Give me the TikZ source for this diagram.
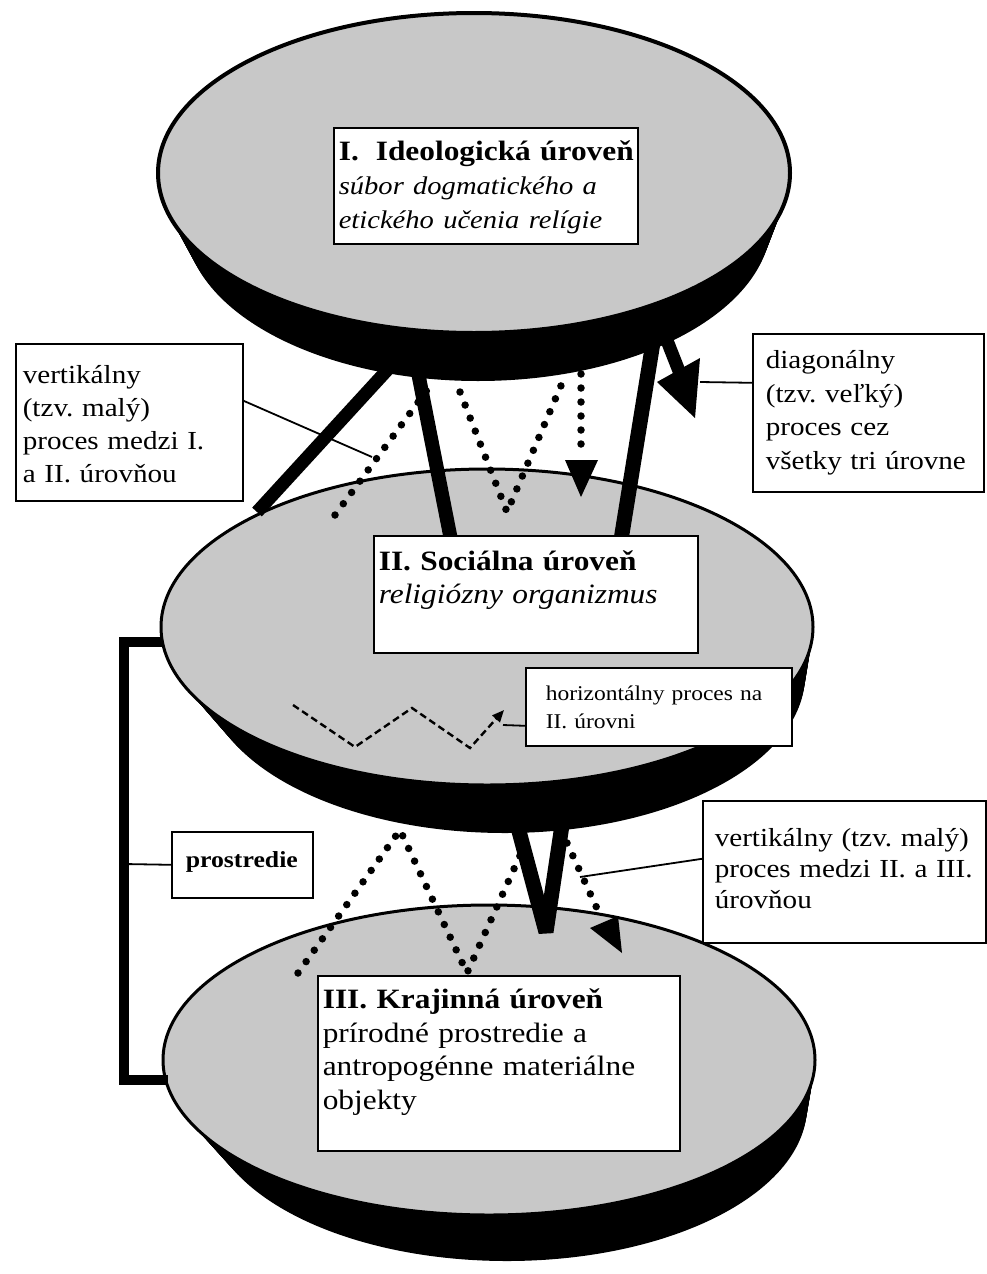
\documentclass[tikz,border=0pt]{standalone}
\usepackage{fontspec}
\setmainfont{Liberation Serif}[FakeStretch=1.12]
\usetikzlibrary{arrows.meta}
\definecolor{facegray}{RGB}{200,200,200}
\frenchspacing
\begin{document}
\begin{tikzpicture}[x=1pt,y=-1pt,
  tbox/.style={draw=black, line width=1.6pt, fill=white, anchor=north west, inner ysep=0pt, align=left},
  diskface/.style={fill=facegray, draw=black, line width=3pt},
  bigproc/.style={line width=14pt, line cap=butt, line join=bevel},
  dotproc/.style={line width=7.5pt, line cap=round, dash pattern=on 0pt off 14pt},
  hproc/.style={line width=2.4pt, dash pattern=on 7pt off 4pt},
  leader/.style={line width=1.8pt},
  bracketline/.style={line width=10pt, line join=miter}]
\useasboundingbox (0,0) rectangle (987,1274);
% ---- the three disks (black extruded side, then grey face)
\foreach \ecx/\ecy/\erx/\ery/\edx/\edy/\edr/\elw in {474/173/316/160/4/48/23/4, 487/627/326/158/18/48/26/3, 489/1060/326/155/18/46/26/3}{
  \foreach \i in {0,...,20}{
    \pgfmathsetmacro\epx{\ecx+\edx*\i/20}
    \pgfmathsetmacro\epy{\ecy+\edy*\i/20}
    \pgfmathsetlengthmacro\epr{(\erx-\edr*\i/20)*1pt}
    \fill[black] (\epx,\epy) ellipse [x radius=\epr, y radius=\ery*1pt];
  }
  \draw[diskface, line width=\elw pt] (\ecx,\ecy) ellipse [x radius=\erx*1pt, y radius=\ery*1pt];
}
% ---- diagonal (big) process: thick black segments
\draw[bigproc, line width=13pt] (257,512) -- (401,355);
\draw[bigproc] (414,352) -- (451,540);
\draw[bigproc, line width=15pt] (621,540) -- (655,330);
\draw[bigproc, line width=13pt] (666,338) -- (679,371);
\fill (657,382) -- (700,358) -- (695,418) -- cycle;
\draw[bigproc, line width=15pt] (512,805) -- (546,932) -- (565,805);
% ---- vertical (small) processes: dotted
\draw[dotproc] (335,515) -- (430,386);
\draw[dotproc] (460,392) -- (507,512) -- (563,381);
\draw[dotproc] (581,374) -- (581,458);
\fill (565,460) -- (598,460) -- (581,497) -- cycle;
\draw[dotproc] (298,973) -- (400,830) -- (467,973) -- (527,840);
\draw[dotproc] (567,843) -- (600,915);
\fill (590,928) -- (618,916) -- (622,953) -- cycle;
% ---- horizontal process: dashed zigzag
\draw[hproc, -{Triangle[length=12pt,width=10pt]}] (293,705) -- (355,747) -- (412,708) -- (470,748) -- (504,710);
% ---- environment bracket
\coordinate (brA) at (163,642);
\coordinate (brB) at (124,642);
\coordinate (brC) at (124,1080);
\coordinate (brD) at (168,1080);
\coordinate (brM) at (124,864);
\draw[bracketline] (brA) -- (brB) -- (brC) -- (brD);
% ---- boxes
\node[tbox, inner xsep=5pt, text width=294pt, font=\fontsize{28}{34}\selectfont] (lvlI) at (333,127)
  {\mbox{\rule{0pt}{33pt}\textbf{I.\hspace{17pt}Ideologická úroveň}}\\
   \mbox{\fontsize{25.5}{34}\selectfont\itshape súbor dogmatického a}\\
   \mbox{\fontsize{25.5}{34}\selectfont\itshape etického učenia relígie\rule[-15pt]{0pt}{15pt}}};
\node[tbox, inner xsep=5pt, text width=314pt, font=\fontsize{28}{33}\selectfont] (lvlII) at (373,535)
  {\mbox{\rule{0pt}{35pt}\textbf{II. Sociálna úroveň}}\\
   \mbox{\itshape religiózny organizmus\rule[-49pt]{0pt}{49pt}}};
\node[tbox, inner xsep=5pt, text width=352pt, font=\fontsize{28}{33.5}\selectfont] (lvlIII) at (317,975)
  {\mbox{\rule{0pt}{33pt}\textbf{III. Krajinná úroveň}}\\
   \mbox{prírodné prostredie a}\\
   \mbox{antropogénne materiálne}\\
   \mbox{objekty\rule[-41.5pt]{0pt}{41.5pt}}};
\node[tbox, inner xsep=7pt, text width=213pt, font=\fontsize{26}{33}\selectfont] (procI) at (15,343)
  {\mbox{\rule{0pt}{40pt}vertikálny}\\
   \mbox{(tzv. malý)}\\
   \mbox{proces medzi I.}\\
   \mbox{a II. úrovňou\rule[-18pt]{0pt}{18pt}}};
\node[tbox, inner xsep=13pt, text width=205pt, font=\fontsize{26}{33.5}\selectfont] (diag) at (752,333)
  {\mbox{\rule{0pt}{35pt}diagonálny}\\
   \mbox{(tzv. veľký)}\\
   \mbox{proces cez}\\
   \mbox{všetky tri úrovne\rule[-22.5pt]{0pt}{22.5pt}}};
\node[tbox, inner xsep=20pt, text width=226pt, font=\fontsize{21}{28}\selectfont] (horiz) at (525,667)
  {\mbox{\rule{0pt}{33pt}horizontálny proces na}\\
   \mbox{II. úrovni\rule[-17pt]{0pt}{17pt}}};
\node[tbox, inner xsep=14pt, text width=113pt, font=\fontsize{23}{28}\selectfont] (prost) at (171,831)
  {\mbox{\rule{0pt}{36pt}\rule[-30pt]{0pt}{30pt}\textbf{prostredie}}};
\node[tbox, inner xsep=12pt, text width=259pt, font=\fontsize{26}{31}\selectfont] (procII) at (702,800)
  {\mbox{\rule{0pt}{46pt}vertikálny (tzv. malý)}\\
   \mbox{proces medzi II. a III.}\\
   \mbox{úrovňou\rule[-34pt]{0pt}{34pt}}};
% ---- leader lines from the labels
\coordinate (pI) at (372,457);
\coordinate (pD) at (700,382);
\coordinate (pH) at (503,725);
\coordinate (pII) at (580,877);
\draw[leader] ([yshift=21.5pt]procI.east) -- (pI);
\draw[leader] ([yshift=30pt]diag.west) -- (pD);
\draw[leader] ([yshift=-19pt]horiz.west) -- (pH);
\draw[leader] ([yshift=13pt]procII.west) -- (pII);
\draw[leader] (prost.west) -- (brM);
\end{tikzpicture}
\end{document}
